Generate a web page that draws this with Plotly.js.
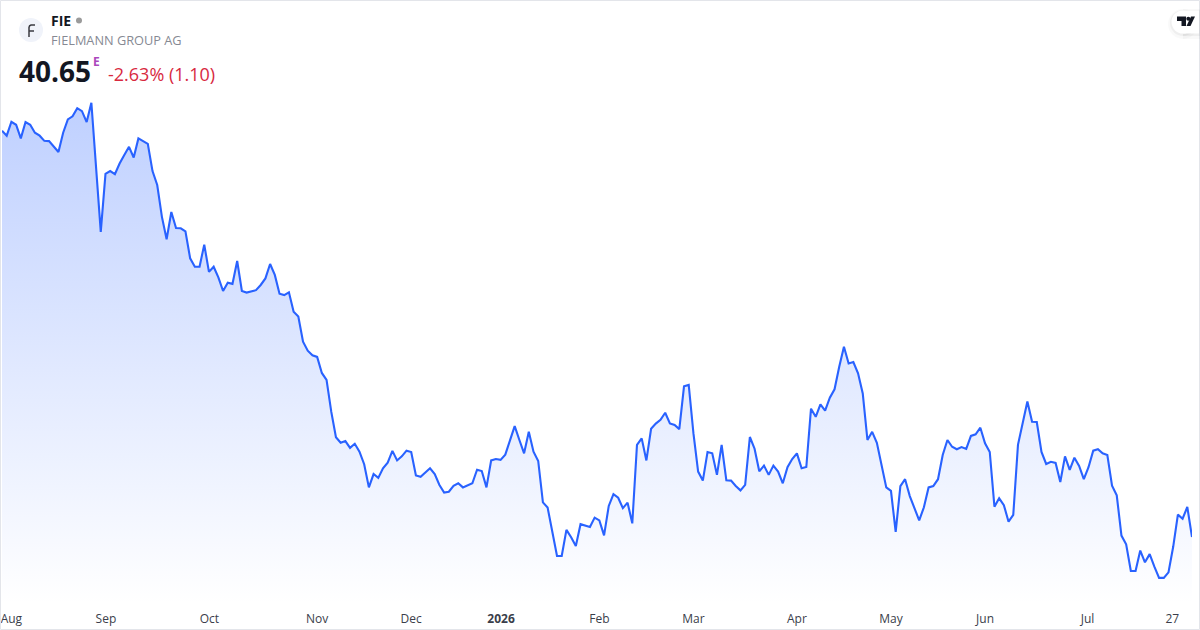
<!DOCTYPE html>
<html><head><meta charset="utf-8">
<script src="https://cdn.plot.ly/plotly-3.0.1.min.js"></script>
<style>html,body{margin:0;padding:0;background:#fff}#c{width:1200px;height:630px}</style>
</head><body><div id="c"></div>
<script>
const prices=[55.56,55.38,55.89,55.78,55.28,55.88,55.78,55.49,55.38,55.19,55.18,54.99,54.78,55.49,55.98,56.09,56.39,56.28,55.88,56.59,54.30,51.85,53.98,54.08,53.97,54.36,54.67,54.97,54.58,55.28,55.18,55.08,54.08,53.57,52.40,51.58,52.58,51.99,51.98,51.87,50.88,50.57,50.57,51.38,50.38,50.57,50.18,49.68,49.98,49.94,50.78,49.68,49.62,49.67,49.71,49.90,50.14,50.67,50.27,49.58,49.53,49.63,48.92,48.74,
47.82,47.49,47.32,47.26,46.67,46.42,45.25,44.31,44.11,44.17,43.92,44.07,43.78,43.32,42.47,42.96,42.82,43.17,43.38,43.81,43.46,43.61,43.82,43.77,42.91,42.86,43.02,43.17,42.96,42.56,42.28,42.31,42.53,42.62,42.47,42.56,42.62,43.12,43.07,42.47,43.46,43.51,43.48,43.67,44.18,44.72,44.21,43.72,44.51,43.78,43.44,41.92,41.73,40.79,39.95,39.95,40.91,40.64,40.32,41.12,41.06,41.02,41.36,41.26,40.71,
41.79,42.22,42.09,41.71,41.91,41.15,44.03,44.27,43.46,44.62,44.81,44.95,45.21,44.82,44.76,44.61,46.18,46.23,44.46,43.05,42.72,43.77,43.72,42.93,44.03,42.73,42.72,42.52,42.36,42.56,44.32,43.89,43.06,43.27,42.93,43.27,43.05,42.62,43.21,43.51,43.72,43.17,43.22,45.36,45.06,45.52,45.29,45.76,46.07,46.90,47.63,47.02,47.07,46.66,45.92,44.21,44.51,44.11,43.35,42.47,42.34,40.84,
42.52,42.77,42.15,41.74,41.26,41.74,42.47,42.52,42.77,43.66,44.21,43.96,43.87,43.95,43.88,44.36,44.42,44.66,44.09,43.77,41.76,42.07,41.82,41.21,41.46,44.03,44.82,45.62,44.88,44.87,43.77,43.33,43.41,43.37,42.67,43.61,43.11,43.56,43.26,42.77,43.21,43.82,43.87,43.72,43.66,42.53,42.18,40.70,40.38,39.40,39.40,40.15,39.72,40.02,39.56,39.15,39.15,39.35,40.29,41.47,41.32,41.75,40.65];
const tickIndex=[2,22.1,44.1,67,87,106.1,127,147,169,189,209,230.8,248.8];
const tickLabels=['Aug','Sep','Oct','Nov','Dec','<b>2026</b>','Feb','Mar','Apr','May','Jun','Jul','27'];
const axisLow=38.19, axisHigh=60.36;

const days=prices.map((_,i)=>i);
const W=1200,H=630,ml=2,mr=8,mt=0,mb=26;
const px=x=>(x-ml)/(W-ml-mr), py=y=>1-(y-mt)/(H-mt-mb);
const FONT='"Open Sans", sans-serif';
function note(text,x,y,size,color,extra){
  return Object.assign({text,x:px(x),y:py(y),xref:'paper',yref:'paper',xanchor:'left',yanchor:'middle',showarrow:false,borderpad:0,
    font:{family:FONT,size,color}},extra||{});
}
function rect(x0,y0,x1,y1,o){return Object.assign({type:'rect',xref:'paper',yref:'paper',x0:px(x0),x1:px(x1),y0:py(y0),y1:py(y1),layer:'above'},o)}
function circ(cx,cy,r,fill){return {type:'circle',xref:'paper',yref:'paper',x0:px(cx-r),x1:px(cx+r),y0:py(cy-r),y1:py(cy+r),fillcolor:fill,line:{width:0},layer:'above'}}
function pathStr(points){return 'M'+points.map(p=>px(p[0]).toFixed(5)+','+py(p[1]).toFixed(5)).join('L')}
function path(points,o){return Object.assign({type:'path',xref:'paper',yref:'paper',layer:'above',path:pathStr(points)+'Z',line:{width:0}},o)}
function stroke(points,color,width){return {type:'path',xref:'paper',yref:'paper',layer:'above',path:pathStr(points),line:{color,width},fillcolor:'rgba(0,0,0,0)'}}

const shapes=[
  rect(0.5,0.5,1199.5,629.5,{line:{color:'#e3e5ea',width:1},fillcolor:'rgba(0,0,0,0)'}),
  circ(31,30,12,'#f0f3fa'),
  stroke([[29,37],[29,27.5],[29.6,25.8],[31,25],[35,25]],'#3a3b42',1.5),
  stroke([[29,31],[34,31]],'#3a3b42',1.5),
  circ(1183,24,15,'rgba(0,0,0,0.025)'),
  rect(1183,9,1200,39,{fillcolor:'rgba(0,0,0,0.025)',line:{width:0}}),
  circ(1183,23,13,'rgba(0,0,0,0.04)'),
  rect(1183,10,1200,36,{fillcolor:'rgba(0,0,0,0.04)',line:{width:0}}),
  circ(1183,22,11.5,'#ffffff'),
  rect(1183,10.5,1199,33.5,{fillcolor:'#ffffff',line:{width:0}}),
  path([[1177,16.5],[1186,16.5],[1186,26],[1181.5,26],[1181.5,21],[1177,21]],{fillcolor:'#131722'}),
  circ(1188.3,18.8,2,'#131722'),
  path([[1191,16.5],[1195,16.5],[1190.5,26],[1186.5,26]],{fillcolor:'#131722'}),
  circ(79,20.5,3,'#9b9b9b')
];
const annotations=[
  note('<b>FIE</b>',50,20.5,14,'#131722'),
  note('FIELMANN GROUP AG',50,40,12.75,'#868993'),
  note('<b>40.65</b>',18,70.5,28,'#131722'),
  note('<b>E</b>',92.5,61,12,'#ab47bc'),
  note('-2.63% (1.10)',106.5,74,18,'#d8293f')
];
Plotly.newPlot('c',[
  {x:days,y:days.map(()=>axisLow),mode:'lines',line:{width:0},hoverinfo:'skip',showlegend:false},
  {x:days,y:prices,mode:'lines',line:{color:'#2962ff',width:2.1,shape:'linear'},fill:'tonexty',
   fillgradient:{type:'vertical',start:axisLow,stop:56.6,colorscale:[[0,'rgba(41,98,255,0)'],[1,'rgba(41,98,255,0.3)']]},
   hoverinfo:'skip',showlegend:false}
],{
  width:W,height:H,margin:{l:ml,r:mr,t:mt,b:mb,pad:0},paper_bgcolor:'#ffffff',plot_bgcolor:'#ffffff',
  showlegend:false,
  xaxis:{range:[0,prices.length-1],tickmode:'array',tickvals:tickIndex,ticktext:tickLabels,showgrid:false,zeroline:false,showline:false,ticks:'',
    ticklabelstandoff:6,tickfont:{family:FONT,size:12,color:'#3a3e4a'},tickangle:0,fixedrange:true},
  yaxis:{range:[axisLow,axisHigh],visible:false,showgrid:false,zeroline:false,fixedrange:true},
  shapes,annotations
},{staticPlot:true,displayModeBar:false});
</script></body></html>
